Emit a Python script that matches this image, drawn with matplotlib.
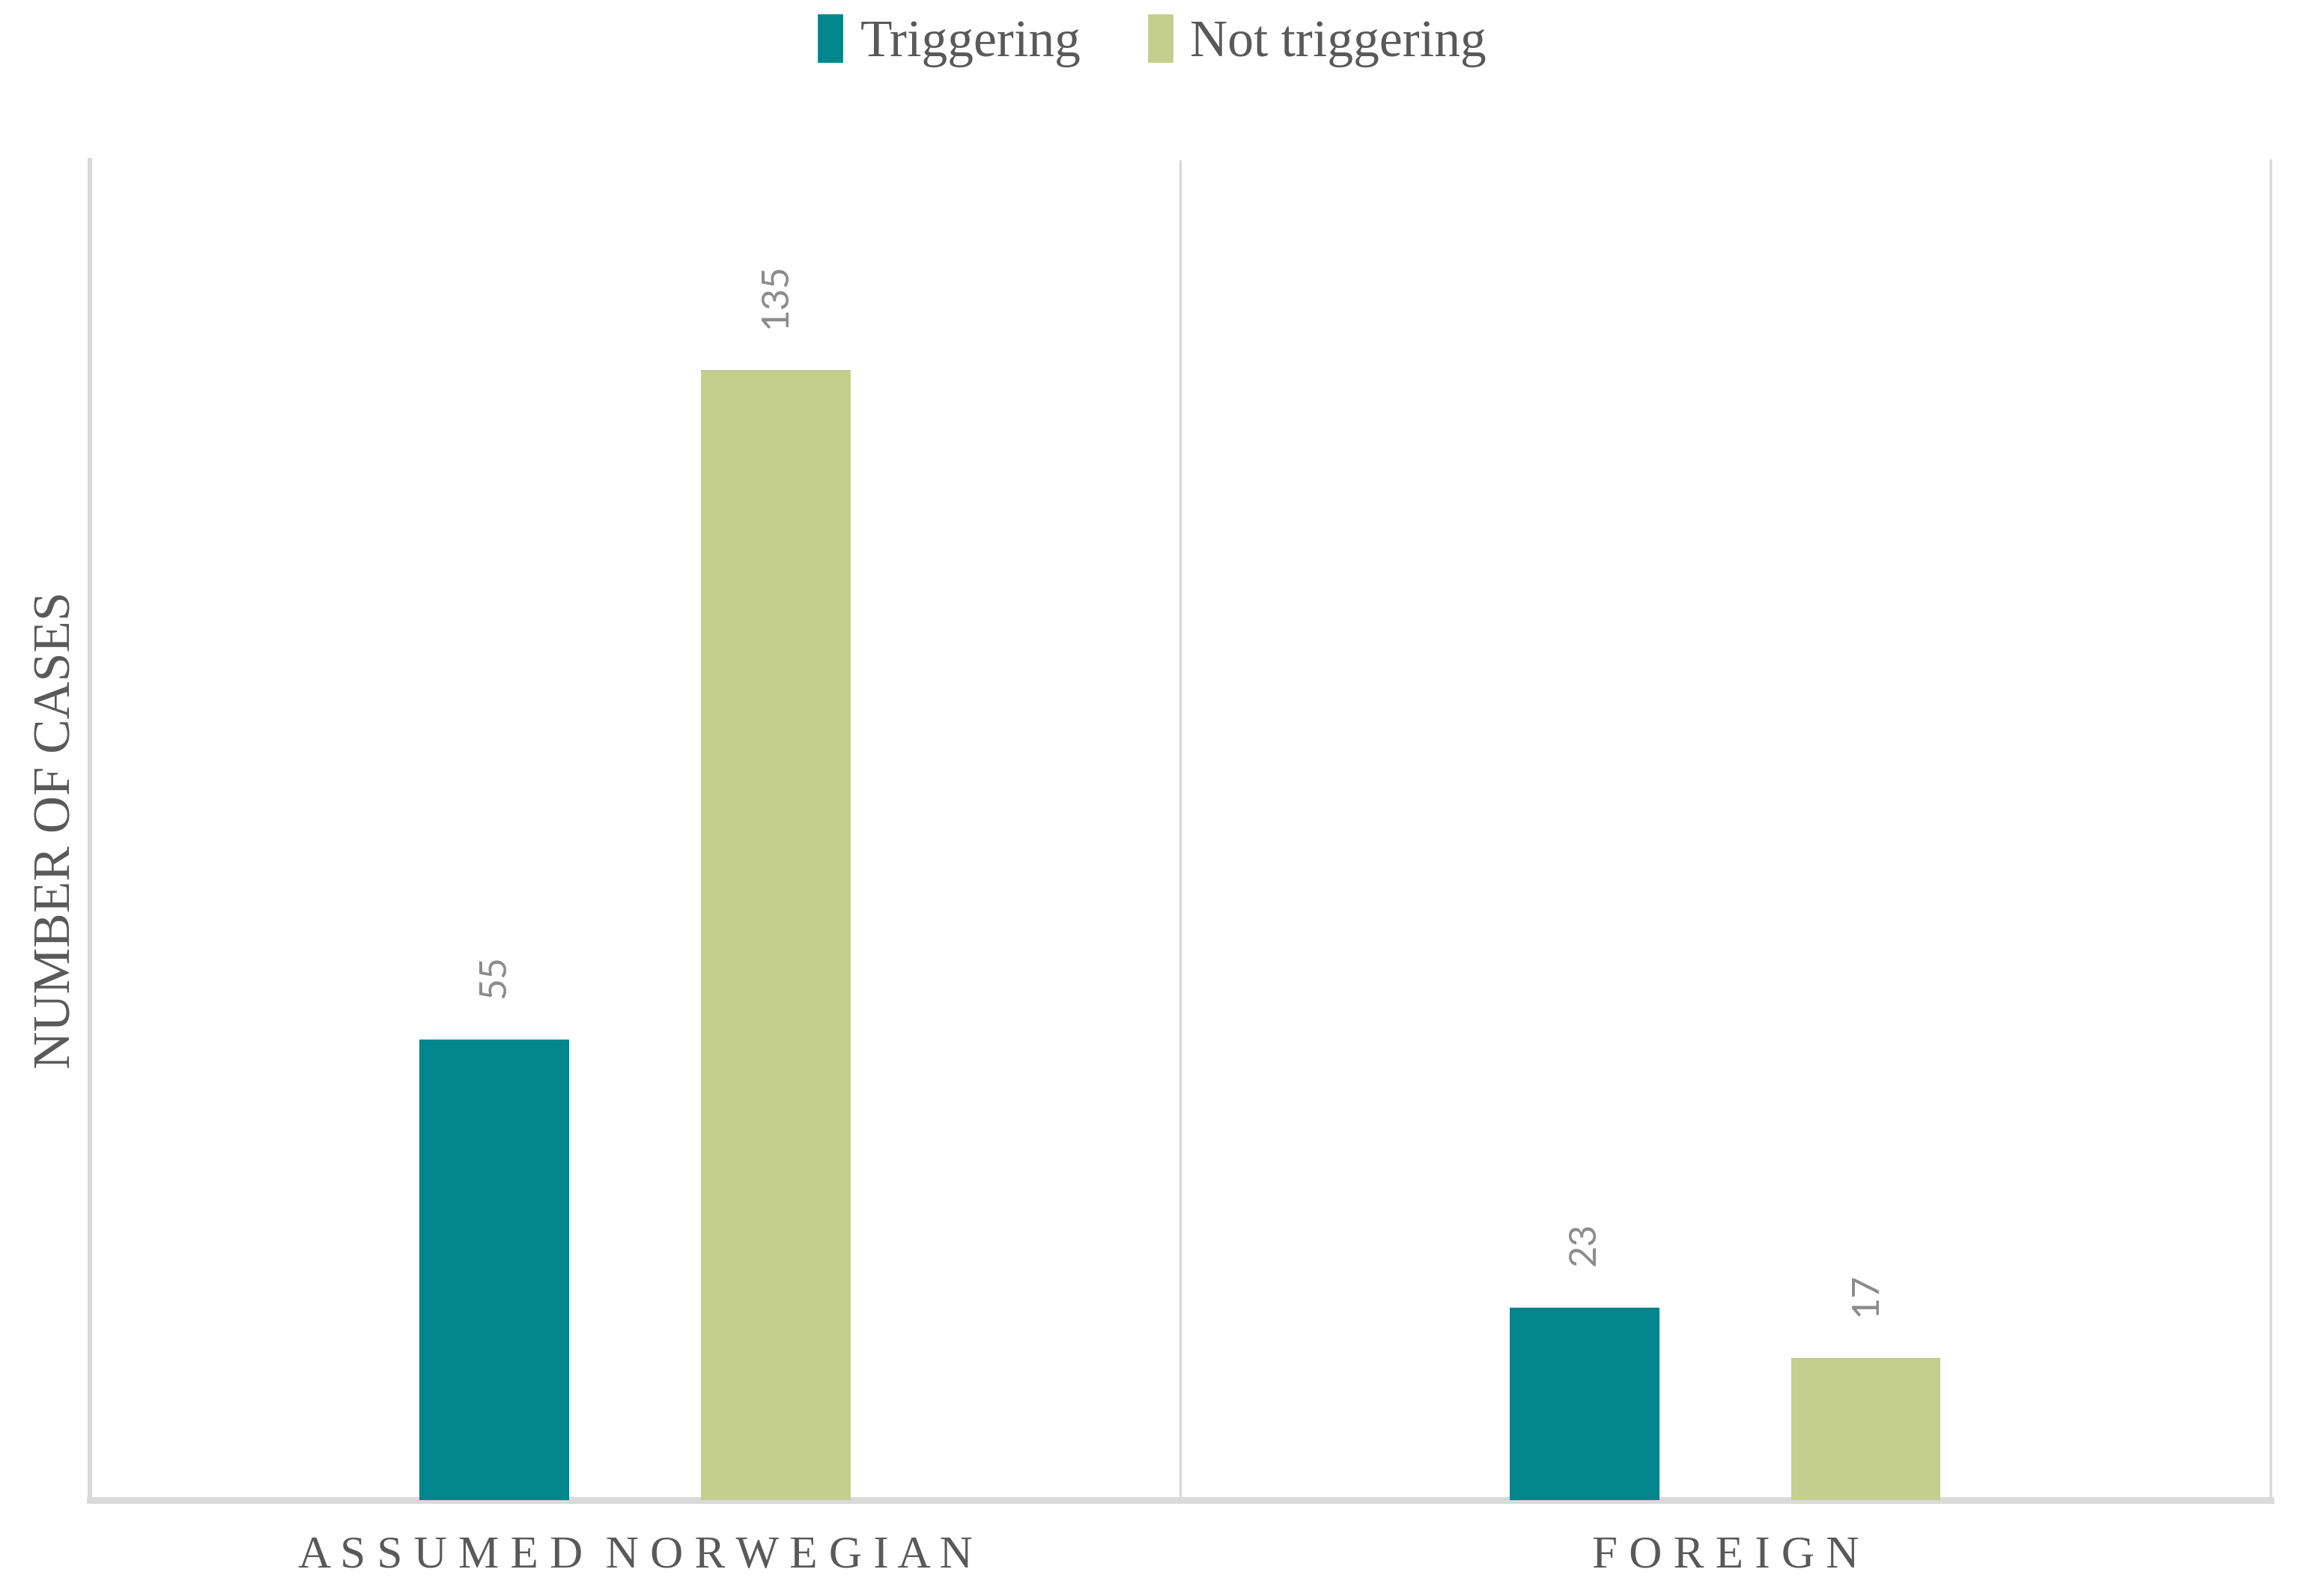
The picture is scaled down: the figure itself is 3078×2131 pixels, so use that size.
import numpy as np
import matplotlib.pyplot as plt
from matplotlib.patches import Patch

categories = ["ASSUMED NORWEGIAN", "FOREIGN"]
series_names = ["Triggering", "Not triggering"]
triggering = [55, 23]
not_triggering = [135, 17]

teal = "#02868c"
green = "#c4ce8d"
text_col = "#595959"
grid_col = "#d9d9d9"

plt.rcParams['font.family'] = ['Liberation Serif', 'DejaVu Serif']

fig = plt.figure(figsize=(15.39, 10.655), dpi=200)
ax = fig.add_axes([0.039, 0.060, 0.946, 0.8396])

x = np.arange(len(categories))
w = 0.137
off = 0.129
b1 = ax.bar(x - off, triggering, width=w, color=teal, zorder=3)
b2 = ax.bar(x + off, not_triggering, width=w, color=green, zorder=3)

# data labels, rotated like in the original
for bars in (b1, b2):
    for r in bars:
        h = r.get_height()
        ax.annotate(str(int(h)), (r.get_x() + r.get_width() / 2, h),
                    xytext=(0, 20), textcoords='offset points',
                    rotation=90, ha='center', va='bottom',
                    fontsize=18, color="#8c8c8c", family=['Lato', 'DejaVu Sans'])

ax.set_xlim(-0.5, 1.5)
ax.set_ylim(0, 160)
ax.set_yticks([])

# category separators
for xs in x[:-1] + 0.5:
    ax.axvline(xs, color=grid_col, lw=1.2, zorder=1)

ax.spines['top'].set_visible(False)
ax.spines['left'].set_color(grid_col)
ax.spines['left'].set_linewidth(2.2)
ax.spines['right'].set_color(grid_col)
ax.spines['right'].set_linewidth(1.2)
ax.spines['bottom'].set_color(grid_col)
ax.spines['bottom'].set_linewidth(3.2)

# letter-spaced category labels
spaced = ["  ".join(" ".join(wd) for wd in c.split()) for c in categories]
ax.set_xticks(x)
ax.set_xticklabels(spaced, fontsize=22, color=text_col)
ax.tick_params(axis='x', length=0, pad=17)

ax.set_ylabel("NUMBER OF CASES", fontsize=25, color=text_col, labelpad=4)

handles = [Patch(color=teal), Patch(color=green)]
fig.legend(handles, series_names, loc='upper center', bbox_to_anchor=(0.5, 1.02),
           ncol=2, frameon=False, fontsize=25, labelcolor=text_col,
           handlelength=0.45, handleheight=1.0, handletextpad=0.35, columnspacing=1.3)

fig.savefig("out.png", dpi=200)
